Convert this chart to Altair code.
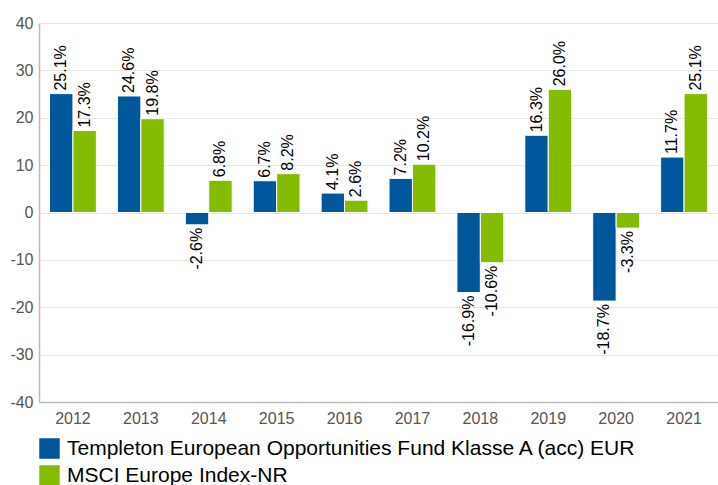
import altair as alt
import pandas as pd

years = ["2012", "2013", "2014", "2015", "2016", "2017", "2018", "2019", "2020", "2021"]
fund_name = "Templeton European Opportunities Fund Klasse A (acc) EUR"
index_name = "MSCI Europe Index-NR"
fund_values = [25.1, 24.6, -2.6, 6.7, 4.1, 7.2, -16.9, 16.3, -18.7, 11.7]
index_values = [17.3, 19.8, 6.8, 8.2, 2.6, 10.2, -10.6, 26.0, -3.3, 25.1]
series_order = [fund_name, index_name]
colors = ["#00569b", "#84bd00"]
y_ticks = [-40, -30, -20, -10, 0, 10, 20, 30, 40]

rows = []
for y, f, i in zip(years, fund_values, index_values):
    rows.append({"year": y, "series": fund_name, "value": f, "order": 0})
    rows.append({"year": y, "series": index_name, "value": i, "order": 1})
df = pd.DataFrame(rows)
df["label"] = df["value"].map(lambda v: f"{v:.1f}%")

x_enc = alt.X("year:N", sort=years,
              scale=alt.Scale(paddingInner=0.31, paddingOuter=0.155),
              axis=alt.Axis(title=None, labelAngle=0, labelFontSize=16, labelColor="#555555",
                            labelFont="Liberation Sans", ticks=False, domainColor="#bbbbbb",
                            labelPadding=8, grid=False))
xoff = alt.XOffset("series:N", sort=series_order)
y_scale = alt.Scale(domain=[-40, 40], nice=False)

base = alt.Chart(df)

bars = base.mark_bar(stroke="white", strokeWidth=1).encode(
    x=x_enc,
    xOffset=xoff,
    y=alt.Y("value:Q", scale=y_scale,
            axis=alt.Axis(title=None, values=y_ticks, labelExpr="'' + datum.value",
                          labelFontSize=16, labelColor="#555555", labelFont="Liberation Sans",
                          ticks=False, domainColor="#bbbbbb", gridColor="#e6e6e6",
                          labelPadding=6)),
    color=alt.Color("series:N", sort=series_order,
                    scale=alt.Scale(domain=series_order, range=colors),
                    legend=alt.Legend(title=None, orient="none", legendX=0, legendY=415,
                                      direction="vertical", symbolType="square",
                                      symbolSize=420, symbolStrokeWidth=0,
                                      labelFontSize=21, labelColor="#000000",
                                      labelFont="Liberation Sans", rowPadding=5,
                                      labelOffset=7, labelLimit=700)),
)

pos_text = base.transform_filter("datum.value >= 0").mark_text(
    angle=270, align="left", baseline="middle", dx=3, fontSize=16,
    font="Liberation Sans", color="#000000"
).encode(x=alt.X("year:N", sort=years), xOffset=xoff,
         y=alt.Y("value:Q", scale=y_scale), text="label:N")

neg_text = base.transform_filter("datum.value < 0").mark_text(
    angle=270, align="right", baseline="middle", dx=-3, fontSize=16,
    font="Liberation Sans", color="#000000"
).encode(x=alt.X("year:N", sort=years), xOffset=xoff,
         y=alt.Y("value:Q", scale=y_scale), text="label:N")

chart = alt.layer(bars, pos_text, neg_text).properties(
    width=679, height=379,
    autosize=alt.AutoSizeParams(type="none"),
    padding={"left": 39, "top": 23, "right": 0, "bottom": 83},
).configure_view(stroke=None).configure_axis(domainWidth=1.5)

chart.save("out.html", embed_options={"renderer": "svg", "actions": False})
